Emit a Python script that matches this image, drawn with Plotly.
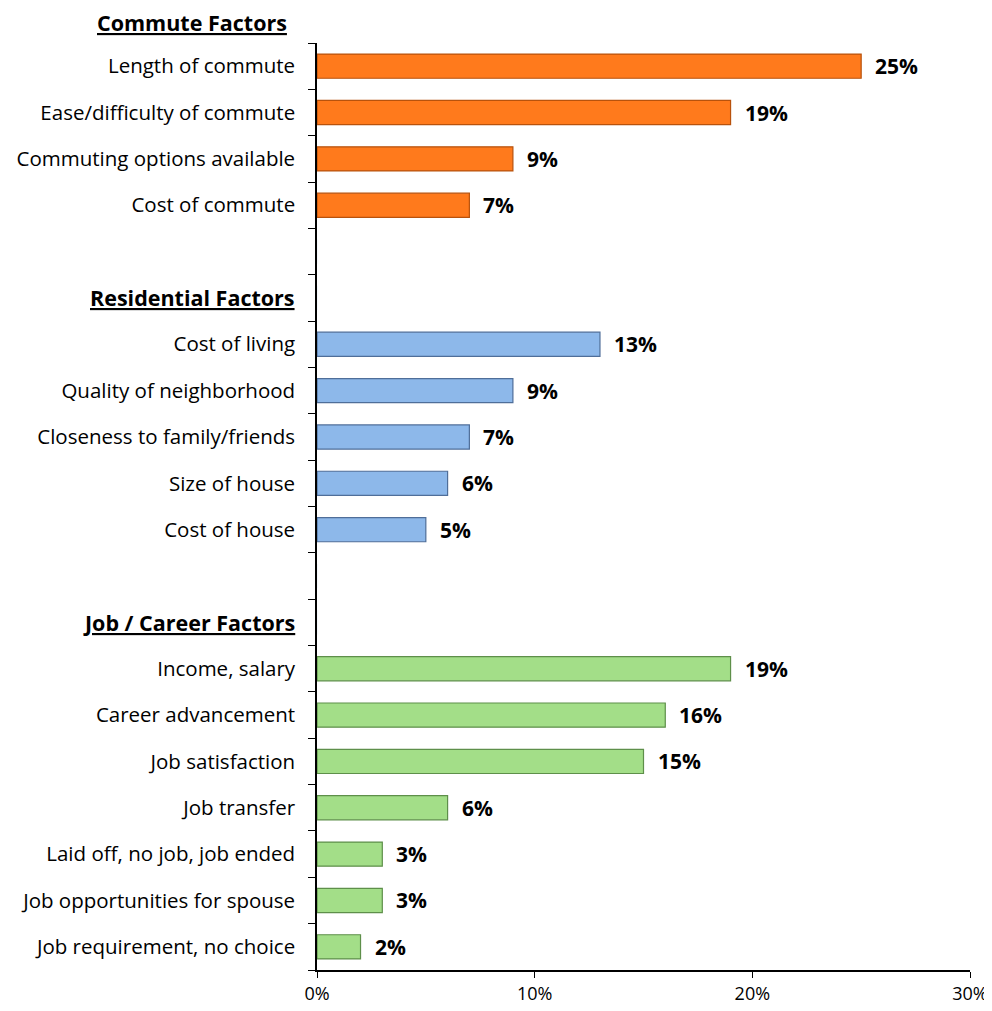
import plotly.graph_objects as go

categories = [
    "Commute Factors",
    "Length of commute", "Ease/difficulty of commute", "Commuting options available", "Cost of commute",
    " ",
    "Residential Factors",
    "Cost of living", "Quality of neighborhood", "Closeness to family/friends", "Size of house", "Cost of house",
    "  ",
    "Job / Career Factors",
    "Income, salary", "Career advancement", "Job satisfaction", "Job transfer",
    "Laid off, no job, job ended", "Job opportunities for spouse", "Job requirement, no choice",
]
headers = ["Commute Factors", "Residential Factors", "Job / Career Factors"]

commute_cats = ["Length of commute", "Ease/difficulty of commute", "Commuting options available", "Cost of commute"]
commute_vals = [0.25, 0.19, 0.09, 0.07]

resid_cats = ["Cost of living", "Quality of neighborhood", "Closeness to family/friends", "Size of house", "Cost of house"]
resid_vals = [0.13, 0.09, 0.07, 0.06, 0.05]

job_cats = ["Income, salary", "Career advancement", "Job satisfaction", "Job transfer",
            "Laid off, no job, job ended", "Job opportunities for spouse", "Job requirement, no choice"]
job_vals = [0.19, 0.16, 0.15, 0.06, 0.03, 0.03, 0.02]

x_ticks = [0, 0.1, 0.2, 0.3]
x_ticklabels = ["0%", "10%", "20%", "30%"]

groups = [
    (commute_cats, commute_vals, "#FF7A1C", "#B8520C"),
    (resid_cats, resid_vals, "#8DB8EA", "#4F6E99"),
    (job_cats, job_vals, "#A3DE88", "#5E8F4A"),
]

FONT = "Open Sans"
fig = go.Figure()
for cats, vals, col, edge in groups:
    fig.add_trace(go.Bar(
        y=cats, x=vals, orientation="h",
        marker=dict(color=col, line=dict(color=edge, width=1.2)),
        showlegend=False,
    ))
    for c, v in zip(cats, vals):
        fig.add_annotation(x=v, y=c, xref="x", yref="y", text=f"<b>{round(v*100)}%</b>",
                           showarrow=False, xanchor="left", xshift=12,
                           font=dict(family=FONT, size=21, color="black"))

# Hidden spacer so blank and header rows exist on the category axis
fig.add_trace(go.Bar(y=[c for c in categories if c not in commute_cats + resid_cats + job_cats],
                     x=[0] * 5, orientation="h", showlegend=False,
                     marker=dict(color="rgba(0,0,0,0)"), hoverinfo="skip"))

for h in headers[1:]:
    fig.add_annotation(x=0, y=h, xref="paper", yref="y", text=f"<b><u>{h}</u></b>",
                       showarrow=False, xanchor="right", xshift=-20,
                       font=dict(family=FONT, size=21.5, color="black"))
fig.add_annotation(x=0, y=1, xref="paper", yref="paper", text=f"<b><u>{headers[0]}</u></b>",
                   showarrow=False, xanchor="right", yanchor="middle", xshift=-28, yshift=21,
                   font=dict(family=FONT, size=21.5, color="black"))

ticktext = ["" if c in headers else c for c in categories]

fig.update_layout(
    width=984, height=1003,
    margin=dict(l=309, r=22, t=35, b=41),
    plot_bgcolor="white", paper_bgcolor="white",
    bargap=0.48, barmode="overlay",
    font=dict(family=FONT, size=19, color="black"),
    yaxis=dict(
        type="category", categoryorder="array", categoryarray=categories,
        tickmode="array", tickvals=categories, ticktext=ticktext,
        range=[len(categories) - 0.5, 0.5], automargin=False,
        showline=True, linecolor="black", linewidth=1.5,
        ticks="outside", ticklen=7, tickcolor="black", tickson="boundaries",
        ticklabelstandoff=16, showgrid=False, zeroline=False,
        tickfont=dict(family=FONT, size=20.5, color="black"),
    ),
    xaxis=dict(
        range=[0, 0.3], tickvals=x_ticks, ticktext=x_ticklabels, automargin=False,
        showline=True, linecolor="black", linewidth=1.5,
        ticks="outside", ticklen=6, tickcolor="black",
        showgrid=False, zeroline=False, ticklabelstandoff=1,
        tickfont=dict(family=FONT, size=18, color="black"),
    ),
)

fig.write_html("out.html")
